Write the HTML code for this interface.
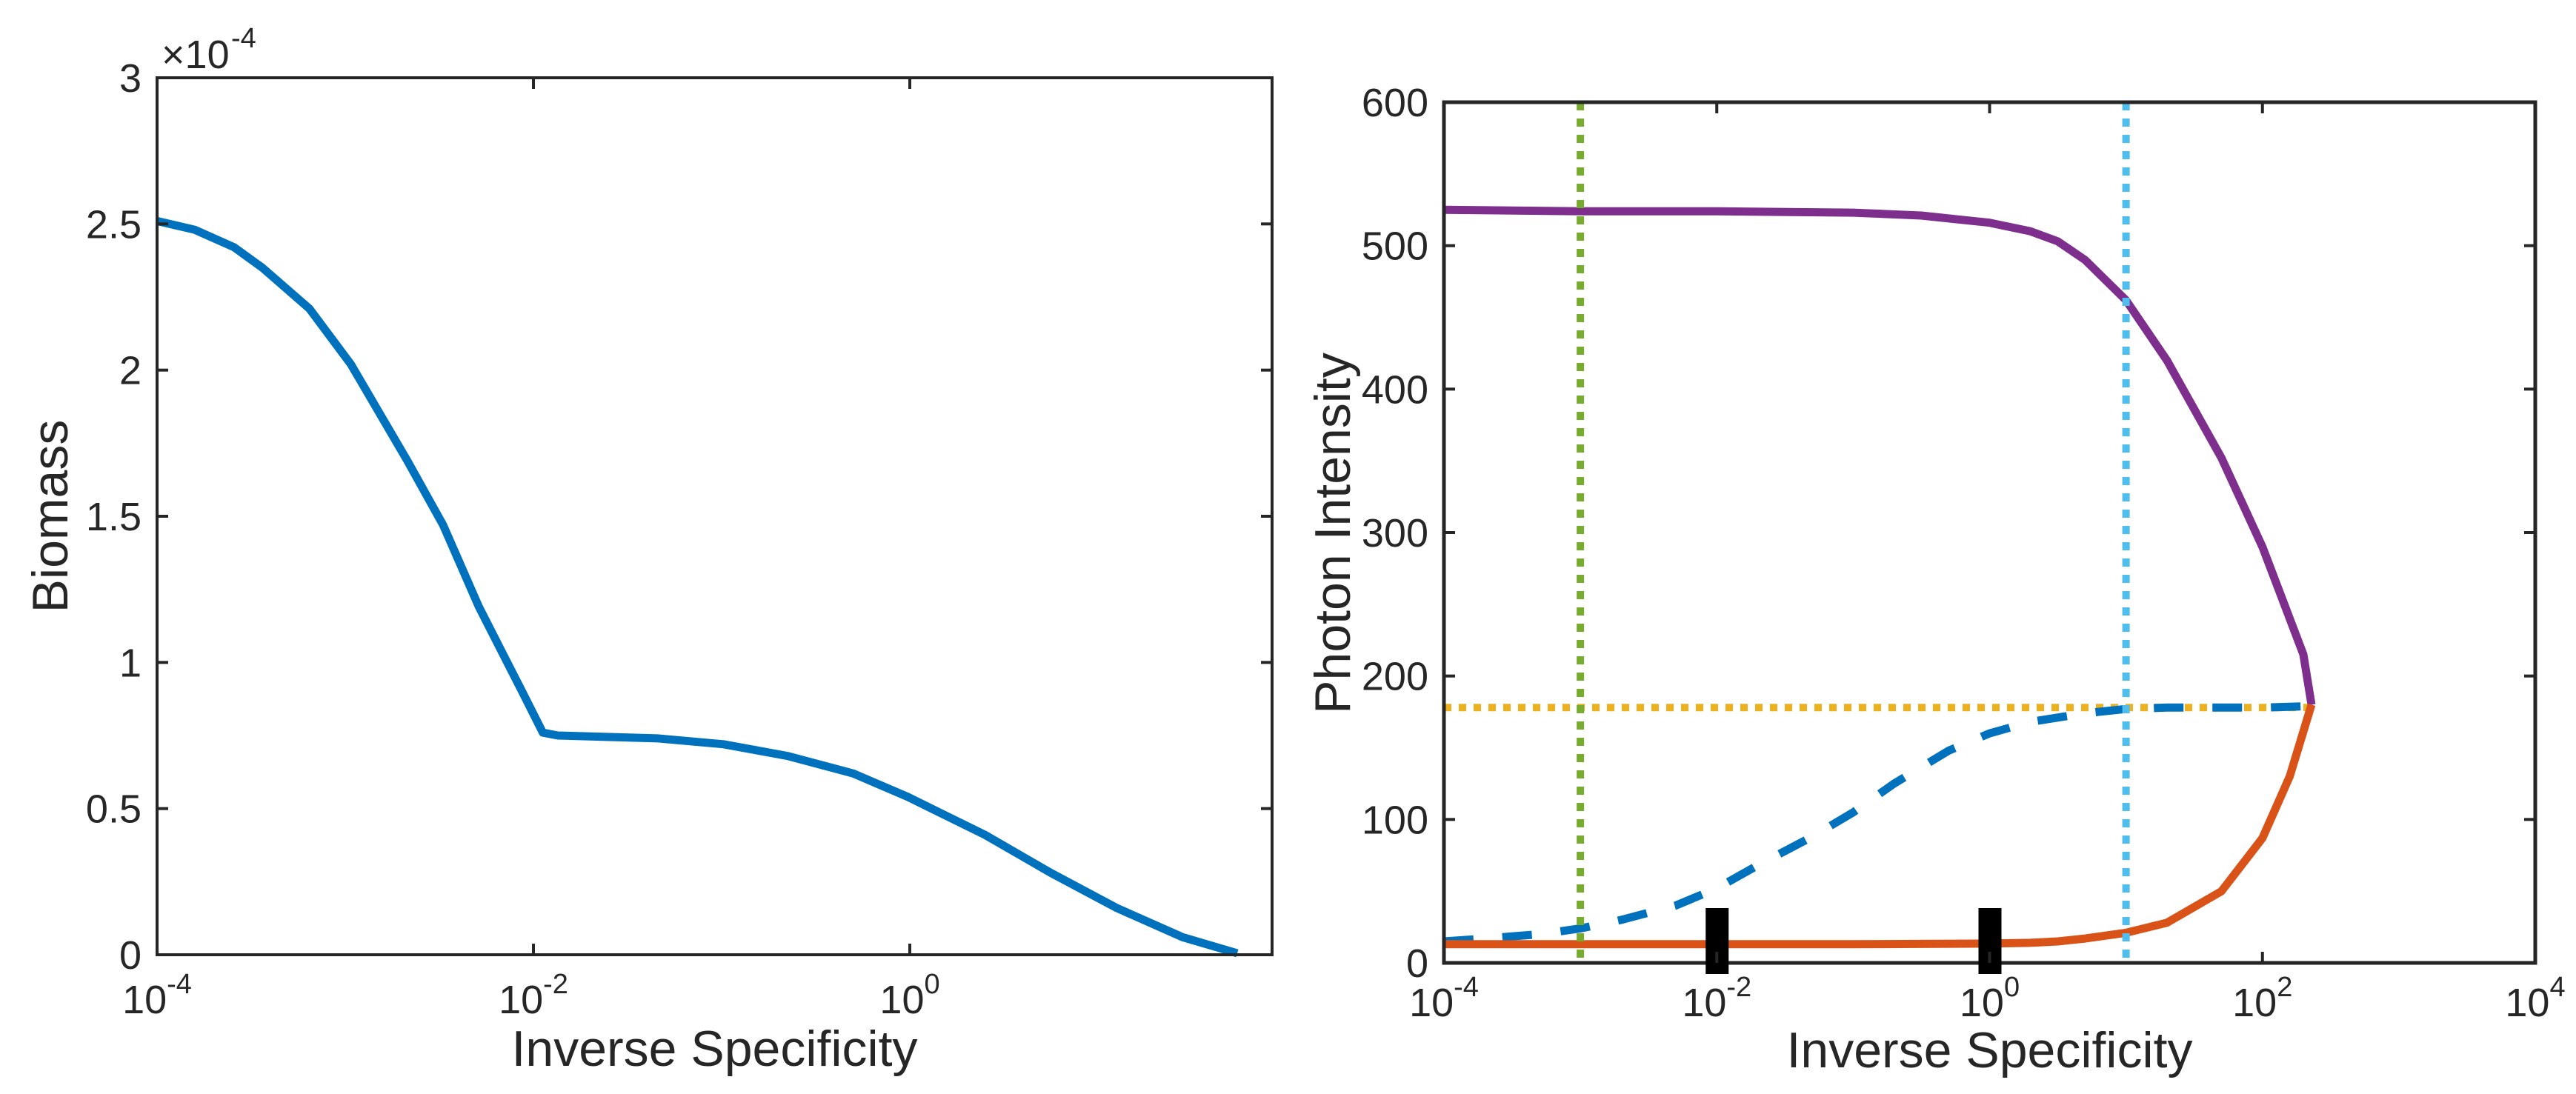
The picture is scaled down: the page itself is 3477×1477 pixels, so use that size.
<!DOCTYPE html>
<html><head><meta charset="utf-8">
<style>
html,body{margin:0;padding:0;background:#fff;}
svg{display:block;}
text{font-family:"Liberation Sans",Arial,sans-serif;fill:#262626;}
</style></head>
<body>
<svg id="fig" width="3477" height="1477" viewBox="0 0 3477 1477" xmlns="http://www.w3.org/2000/svg">
  <g id="left"></g>
  <g id="right"></g>
  <text x="218" y="92" font-size="54">×10</text>
  <text x="312" y="64" font-size="38">-4</text>
</svg>
<script>
// ---- Left chart data (x as log10 of inverse specificity, y in units of 1e-4) ----
const biomassLogX = [-4.0,-3.8,-3.59,-3.44,-3.19,-2.97,-2.67,-2.48,-2.29,-2.06,-1.95,-1.87,-1.34,-0.99,-0.65,-0.30,-0.01,0.40,0.75,1.10,1.45,1.74];
const biomassY    = [2.51,2.48,2.42,2.35,2.21,2.02,1.69,1.47,1.19,0.90,0.76,0.75,0.74,0.72,0.68,0.62,0.54,0.41,0.28,0.16,0.06,0.005];
const leftYTicks  = [0,0.5,1,1.5,2,2.5,3];
const leftYTickLabels = ["0","0.5","1","1.5","2","2.5","3"];
const leftXTicks  = [-4,-2,0];

// ---- Right chart data ----
const purpleLogX = [-4,-3,-2,-1,-0.5,0,0.3,0.5,0.7,1,1.3,1.7,2,2.3,2.36];
const purpleY    = [525,524,524,523,521,516,510,503,490,462,420,352,290,215,180];
const orangeLogX = [-4,-3,-2,-1,0,0.3,0.5,0.7,1,1.3,1.7,2,2.2,2.36];
const orangeY    = [13,13,13,13,13.5,14,15,17,21,28,50,87,130,180];
const dashedLogX = [-4,-3.7,-3.3,-3,-2.7,-2.3,-2,-1.7,-1.3,-1,-0.7,-0.3,0,0.3,0.7,1,1.3,1.7,2,2.36];
const dashedY    = [15,17,20,24,30,40,52,68,88,105,125,148,160,168,174,177,178,178,178,179];
const thresholdY = [178];
const greenLogX  = [-3];
const cyanLogX   = [1];
const barLogX    = [-2,0];
const rightYTicks = [0,100,200,300,400,500,600];
const rightXTicks = [-4,-2,0,2,4];

const NS="http://www.w3.org/2000/svg";
function mk(parent,tag,attrs){const e=document.createElementNS(NS,tag);for(const k in attrs)e.setAttribute(k,attrs[k]);parent.appendChild(e);return e;}

const L={x0:212,x1:1717,y0:1289,y1:105,xmin:-4,xmax:1.925,ymin:0,ymax:3};
const lx=v=>L.x0+(v-L.xmin)/(L.xmax-L.xmin)*(L.x1-L.x0);
const ly=v=>L.y0-(v-L.ymin)/(L.ymax-L.ymin)*(L.y0-L.y1);
const R={x0:1949,x1:3422,y0:1300,y1:138,xmin:-4,xmax:4,ymin:0,ymax:600};
const rx=v=>R.x0+(v-R.xmin)/(R.xmax-R.xmin)*(R.x1-R.x0);
const ry=v=>R.y0-(v-R.ymin)/(R.ymax-R.ymin)*(R.y0-R.y1);

function pathD(xs,ys,fx,fy){return xs.map((x,i)=>(i?'L':'M')+fx(x).toFixed(1)+' '+fy(ys[i]).toFixed(1)).join(' ');}

function xTickLabel(g,x,y,exp){
  const t=mk(g,'text',{x:x,y:y,'text-anchor':'middle'});
  
  
  const a=mk(t,'tspan',{'font-size':54}); a.textContent='10';
  const s=mk(t,'tspan',{dy:-27,'font-size':38}); s.textContent=String(exp);
}

// ----- LEFT -----
const gl=document.getElementById('left');
const lline=mk(gl,'path',{d:pathD(biomassLogX,biomassY,lx,ly),fill:'none',stroke:'#0072BD','stroke-width':11,'stroke-linejoin':'round'});


const lbox=mk(gl,'rect',{x:L.x0,y:L.y1,width:L.x1-L.x0,height:L.y0-L.y1,fill:'none',stroke:'#262626','stroke-width':4});


leftYTicks.forEach((v,i)=>{
  const y=ly(v);
  mk(gl,'line',{x1:L.x0,x2:L.x0+15,y1:y,y2:y,stroke:'#262626','stroke-width':4});
  mk(gl,'line',{x1:L.x1,x2:L.x1-15,y1:y,y2:y,stroke:'#262626','stroke-width':4});
  const t=mk(gl,'text',{x:191,y:y+19,'text-anchor':'end','font-size':54});
  
  
  t.textContent=leftYTickLabels[i];
});
leftXTicks.forEach(v=>{
  const x=lx(v);
  mk(gl,'line',{x1:x,x2:x,y1:L.y0,y2:L.y0-15,stroke:'#262626','stroke-width':4});
  mk(gl,'line',{x1:x,x2:x,y1:L.y1,y2:L.y1+15,stroke:'#262626','stroke-width':4});
  xTickLabel(gl,x,1368,v);
});
{const t=mk(gl,'text',{x:(L.x0+L.x1)/2,y:1439,'text-anchor':'middle','font-size':68});
 
 
 t.textContent='Inverse Specificity';}
{const t=mk(gl,'text',{x:0,y:0,'text-anchor':'middle','font-size':68,transform:'translate(91,697) rotate(-90)'});
 
 
 t.textContent='Biomass';}

// ----- RIGHT -----
const gr=document.getElementById('right');
const yel=mk(gr,'line',{x1:R.x0,x2:rx(2.36),y1:ry(thresholdY[0]),y2:ry(thresholdY[0]),stroke:'#EDB120','stroke-width':10,'stroke-dasharray':'10 10'});


const dl=mk(gr,'path',{d:pathD(dashedLogX,dashedY,rx,ry),fill:'none',stroke:'#0072BD','stroke-width':11,'stroke-dasharray':'40 39'});


const pl=mk(gr,'path',{d:pathD(purpleLogX,purpleY,rx,ry),fill:'none',stroke:'#7E2F8E','stroke-width':11,'stroke-linejoin':'round'});


const ol=mk(gr,'path',{d:pathD(orangeLogX,orangeY,rx,ry),fill:'none',stroke:'#D95319','stroke-width':11,'stroke-linejoin':'round'});


greenLogX.forEach(v=>{
  const e=mk(gr,'line',{x1:rx(v),x2:rx(v),y1:R.y1,y2:R.y0,stroke:'#77AC30','stroke-width':10,'stroke-dasharray':'11 11'});
  
  
});
cyanLogX.forEach(v=>{
  const e=mk(gr,'line',{x1:rx(v),x2:rx(v),y1:R.y1,y2:R.y0,stroke:'#4DBEEE','stroke-width':10,'stroke-dasharray':'11 11'});
  
  
});
const rbox=mk(gr,'rect',{x:R.x0,y:R.y1,width:R.x1-R.x0,height:R.y0-R.y1,fill:'none',stroke:'#262626','stroke-width':5});


barLogX.forEach(v=>{
  const e=mk(gr,'rect',{x:rx(v)-15,y:1226,width:31,height:89,fill:'#000'});
  
  
});
rightYTicks.forEach(v=>{
  const y=ry(v);
  mk(gr,'line',{x1:R.x0,x2:R.x0+15,y1:y,y2:y,stroke:'#262626','stroke-width':4});
  mk(gr,'line',{x1:R.x1,x2:R.x1-15,y1:y,y2:y,stroke:'#262626','stroke-width':4});
  const t=mk(gr,'text',{x:1928,y:y+19,'text-anchor':'end','font-size':54});
  
  
  t.textContent=String(v);
});
rightXTicks.forEach(v=>{
  const x=rx(v);
  mk(gr,'line',{x1:x,x2:x,y1:R.y0,y2:R.y0-15,stroke:'#262626','stroke-width':4});
  mk(gr,'line',{x1:x,x2:x,y1:R.y1,y2:R.y1+15,stroke:'#262626','stroke-width':4});
  xTickLabel(gr,x,1372,v);
});
{const t=mk(gr,'text',{x:(R.x0+R.x1)/2,y:1441,'text-anchor':'middle','font-size':68});
 
 
 t.textContent='Inverse Specificity';}
{const t=mk(gr,'text',{x:0,y:0,'text-anchor':'middle','font-size':68,transform:'translate(1822,720) rotate(-90)'});
 
 
 t.textContent='Photon Intensity';}
</script>
</body></html>
